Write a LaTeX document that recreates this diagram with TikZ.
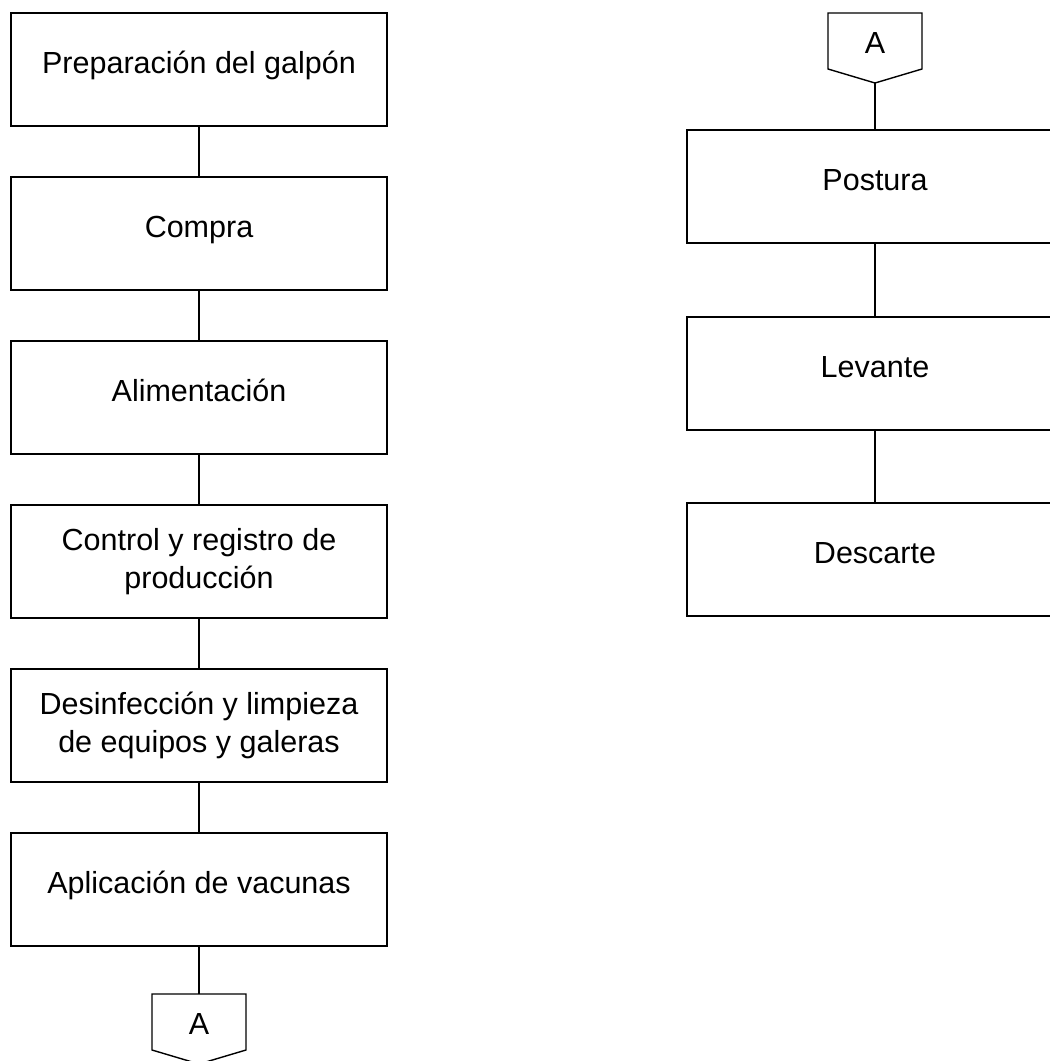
\documentclass[tikz,border=0pt]{standalone}
\usepackage{fontspec}
\setmainfont{Liberation Sans}
\usetikzlibrary{positioning,calc}
\tikzset{
  stage/.style={draw, line width=1.6pt, minimum width=376pt, minimum height=113pt,
    align=center, inner sep=0pt, outer sep=0pt, font=\fontsize{30.5}{38}\selectfont},
  oneline/.style={text height=23pt, text depth=16pt},
  offpage/.style={minimum width=94pt, minimum height=70pt, inner sep=0pt,
    outer sep=0pt, text height=22pt, text depth=12pt, font=\fontsize{30.5}{38}\selectfont},
  link/.style={line width=1.4pt}
}
\begin{document}
\begin{tikzpicture}[x=1pt, y=1pt, node distance=51pt]
    \useasboundingbox (0,0) rectangle (1050,-1061);
    % Define nodes (left column)
    \node[stage, oneline]		(prep)	at (199,-69.5)	{Preparación del galpón};
    \node[stage, oneline, below = of prep]		(compra)		{Compra};
    \node[stage, oneline, below = of compra]		(alim)		{Alimentación};
    \node[stage, below = of alim]		(control)		{Control y registro de\\producción};
    \node[stage, below = of control]		(desinf)		{Desinfección y limpieza\\de equipos y galeras};
    \node[stage, oneline, below = of desinf]		(vacunas)		{Aplicación de vacunas};
    \node[offpage, below = 48pt of vacunas]		(aout)		{A};
    
    % Define nodes (right column)
    \node[offpage, anchor=north]	(ain)	at (875,-13)	{A};
    \node[stage, oneline, below = 47pt of ain]		(postura)		{Postura};
    \node[stage, oneline, below = 74pt of postura]		(levante)		{Levante};
    \node[stage, oneline, below = 73pt of levante]		(descarte)		{Descarte};
    
    % Off-page connectors
    \foreach \c in {aout,ain}
      \draw[link] (\c.north west) -- (\c.north east) -- ($(\c.south east)+(0,14)$)
        -- (\c.south) -- ($(\c.south west)+(0,14)$) -- cycle;
    
    % Connect nodes
    \draw[link] (prep) -- (compra);
    \draw[link] (compra) -- (alim);
    \draw[link] (alim) -- (control);
    \draw[link] (control) -- (desinf);
    \draw[link] (desinf) -- (vacunas);
    \draw[link] (vacunas) -- (aout);
    \draw[link] (ain) -- (postura);
    \draw[link] (postura) -- (levante);
    \draw[link] (levante) -- (descarte);
\end{tikzpicture}
\end{document}
